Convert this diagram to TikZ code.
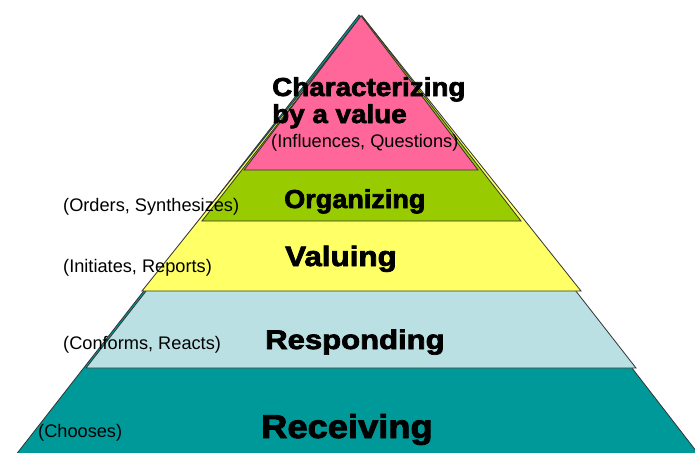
\documentclass[tikz,border=0pt]{standalone}
\usepackage{fontspec}
\setmainfont{Liberation Sans}
\newfontfamily\heavyfont[FakeBold=2.5]{Liberation Sans Bold}
\definecolor{cpink}{HTML}{FF6699}
\definecolor{cgreen}{HTML}{99CC00}
\definecolor{cyellow}{HTML}{FFFF66}
\definecolor{clblue}{HTML}{BBE0E3}
\definecolor{cteal}{HTML}{009999}
\definecolor{cedge}{HTML}{333333}
\begin{document}
\begin{tikzpicture}[x=1pt,y=-1pt,
  layer/.style={draw=cedge,line width=0.8pt,line join=miter},
  title/.style={anchor=base west,inner sep=0pt,font=\heavyfont\fontsize{26}{27}\selectfont},
  verbs/.style={anchor=base west,inner sep=0pt,font=\fontsize{18.2}{20}\selectfont}]
\useasboundingbox (0,0) rectangle (695,452);
\clip (0,0) rectangle (695,452);
\fill[white] (0,0) rectangle (695,452);
% stacked triangles
\filldraw[layer,fill=cteal] (359,15) -- (15,456) -- (700,456) -- cycle;
\filldraw[layer,fill=clblue] (361,16) -- (86,368) -- (636,368) -- cycle;
\filldraw[layer,fill=cyellow] (362,16) -- (142,291) -- (581,291) -- cycle;
\filldraw[layer,fill=cgreen] (362,16) -- (202,221) -- (521,221) -- cycle;
\filldraw[layer,fill=cpink] (361,16) -- (244,170) -- (478,170) -- cycle;
% titles
\node[title,xscale=1.07] (char1) at (272,96) {Characterizing};
\node[title,xscale=1.07] (char2) at (272,123) {by a value};
\node[verbs] (infl) at (271,147) {(Influences, Questions)};
\node[title,xscale=1.04] (org) at (284,208) {Organizing};
\node[title,font=\heavyfont\fontsize{28}{29}\selectfont,xscale=1.12] (val) at (285,266) {Valuing};
\node[title,font=\heavyfont\fontsize{27}{28}\selectfont,xscale=1.15] (resp) at (265,349) {Responding};
\node[title,font=\heavyfont\fontsize{33}{34}\selectfont,xscale=1.1] (rec) at (261,438) {Receiving};
\node[verbs] (ord) at (63,211) {(Orders, Synthesizes)};
\node[verbs] (init) at (63,272) {(Initiates, Reports)};
\node[verbs] (conf) at (63,349) {(Conforms, Reacts)};
\node[verbs] (choo) at (38,437) {(Chooses)};
\end{tikzpicture}
\end{document}
